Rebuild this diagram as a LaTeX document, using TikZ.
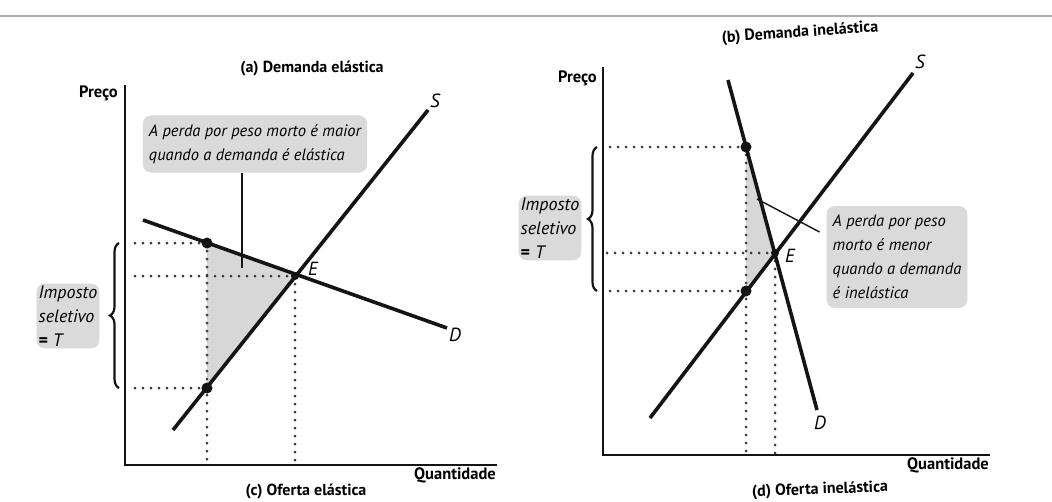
\documentclass[tikz,border=0pt]{standalone}
\usepackage{fontspec}
\setmainfont{PT Sans}
\usetikzlibrary{positioning, calc, decorations.pathreplacing}
\definecolor{ink}{RGB}{20,20,20}
\definecolor{lossgrey}{RGB}{215,215,215}
\definecolor{boxgrey}{RGB}{218,218,218}
\definecolor{edge}{RGB}{175,175,175}

\begin{document}
\begin{tikzpicture}[
  x=1pt, y=-1pt,
  curve/.style={line width=3.6pt, ink},
  axis/.style={line width=2pt, ink},
  guide/.style={line width=3pt, ink!85, dash pattern=on 0pt off 8pt, line cap=round},
  pointer/.style={line width=1.4pt, ink},
  dot/.style={circle, fill=ink, minimum size=11pt, inner sep=0},
  lbl/.style={font=\bfseries\fontsize{16.5}{18}\selectfont, inner sep=1pt},
  title/.style={font=\bfseries\fontsize{16}{18}\selectfont, inner sep=1pt},
  curvelbl/.style={font=\itshape\fontsize{19}{20}\selectfont, inner sep=1pt},
  note/.style={fill=boxgrey, rounded corners=8pt, align=left, font=\itshape\fontsize{16.5}{24}\selectfont, inner xsep=6pt, inner ysep=9pt},
  taxbox/.style={fill=boxgrey, rounded corners=8pt, align=left, font=\itshape\fontsize{18}{24}\selectfont, inner sep=2pt},
  brace/.style={decorate, decoration={brace, amplitude=9pt, mirror}, line width=2.2pt, ink},
]
\useasboundingbox (0,0) rectangle (1052,501);
\fill[white] (0,0) rectangle (1052,501);
\draw[edge, line width=1.5pt] (0,16) -- (1052,16);

% Panel (a): demanda elastica
\coordinate (oa) at (125,465);
\coordinate (ya) at (125,85);
\coordinate (xa) at (497,465);
\coordinate (sa0) at (173,430);
\coordinate (sa1) at (428,110);
\coordinate (da0) at (143,220);
\coordinate (da1) at (447,328);
\coordinate (ea) at (295,276);
\coordinate (pa) at (207,243);
\coordinate (ra) at (207,388);

\fill[lossgrey] (pa) -- (ea) -- (ra) -- cycle;

\draw[guide, shorten >=4pt] (pa) -- (pa -| oa);
\draw[guide, shorten >=4pt] (ea) -- (ea -| oa);
\draw[guide, shorten >=4pt] (ra) -- (ra -| oa);
\draw[guide, shorten >=2pt] (pa) -- (pa |- oa);
\draw[guide, shorten >=2pt] (ea) -- (ea |- oa);

\draw[axis] (ya) -- (oa) -- (xa);
\draw[curve] (sa0) -- (sa1);
\draw[curve] (da0) -- (da1);

\node[dot] (pa-dot) at (pa) {};
\node[dot] (ra-dot) at (ra) {};
\node[dot, minimum size=8pt] (ea-dot) at (ea) {};

\node[curvelbl, anchor=south west] (sa-lbl) at ($(sa1)+(1,-1)$) {S};
\node[curvelbl, anchor=north west] (da-lbl) at ($(da1)+(1,-1)$) {D};
\node[curvelbl] (ea-lbl) at ($(ea)+(18,-7)$) {E};

\node[lbl, anchor=east] (ya-lbl) at ($(ya)+(-6,8)$) {Preço};
\node[lbl, anchor=north east] (xa-lbl) at ($(xa)+(0,2)$) {Quantidade};
\node[title] (title-a) at (312,68) {(a) Demanda elástica};
\node[title] (title-c) at (306,491) {(c) Oferta elástica};

% callout and tax bracket (a)
\node[note] (note-a) at (255,144) {A perda por peso morto é maior\\quando a demanda é elástica};
\coordinate (ka) at (242,268);
\draw[pointer] (ka |- note-a.south) -- (ka);
\draw[brace] (119,243) -- (119,388);
\node[taxbox] (tax-a) at (68,316) {Imposto\\seletivo\\{\upshape\bfseries =} T};

% Panel (b): demanda inelastica
\coordinate (ob) at (603,455);
\coordinate (yb) at (603,67);
\coordinate (xb) at (990,455);
\coordinate (sb0) at (650,418);
\coordinate (sb1) at (913,73);
\coordinate (db0) at (728,80);
\coordinate (db1) at (817,410);
\coordinate (eb) at (775,253);
\coordinate (pb) at (746,147);
\coordinate (rb) at (746,291);

\fill[lossgrey] (pb) -- (eb) -- (rb) -- cycle;

\draw[guide, shorten >=4pt] (pb) -- (pb -| ob);
\draw[guide, shorten >=4pt] (eb) -- (eb -| ob);
\draw[guide, shorten >=4pt] (rb) -- (rb -| ob);
\draw[guide, shorten >=2pt] (pb) -- (pb |- ob);
\draw[guide, shorten >=2pt] (eb) -- (eb |- ob);

\draw[axis] (yb) -- (ob) -- (xb);
\draw[curve] (sb0) -- (sb1);
\draw[curve] (db0) -- (db1);

\node[dot] (pb-dot) at (pb) {};
\node[dot] (rb-dot) at (rb) {};
\node[dot, minimum size=8pt] (eb-dot) at (eb) {};

\node[curvelbl, anchor=south west] (sb-lbl) at ($(sb1)+(1,-3)$) {S};
\node[curvelbl, anchor=north] (db-lbl) at ($(db1)+(3,5)$) {D};
\node[curvelbl] (eb-lbl) at ($(eb)+(15,3)$) {E};

\node[lbl, anchor=east] (yb-lbl) at ($(yb)+(-5,11)$) {Preço};
\node[lbl, anchor=north east] (xb-lbl) at ($(xb)+(0,2)$) {Quantidade};
\node[title, rotate=4] (title-b) at (800,33) {(b) Demanda inelástica};
\node[title, rotate=2] (title-d) at (820,490) {(d) Oferta inelástica};

% callout and tax bracket (b)
\node[note] (note-b) at (897,257) {A perda por peso\\morto é menor\\quando a demanda\\é inelástica};
\coordinate (kb) at (757,199);
\draw[pointer] ($(note-b.west)+(-7,-25)$) -- (kb);
\draw[brace] (597,147) -- (597,291);
\node[taxbox] (tax-b) at (550,228) {Imposto\\seletivo\\{\upshape\bfseries =} T};

\end{tikzpicture}
\end{document}
